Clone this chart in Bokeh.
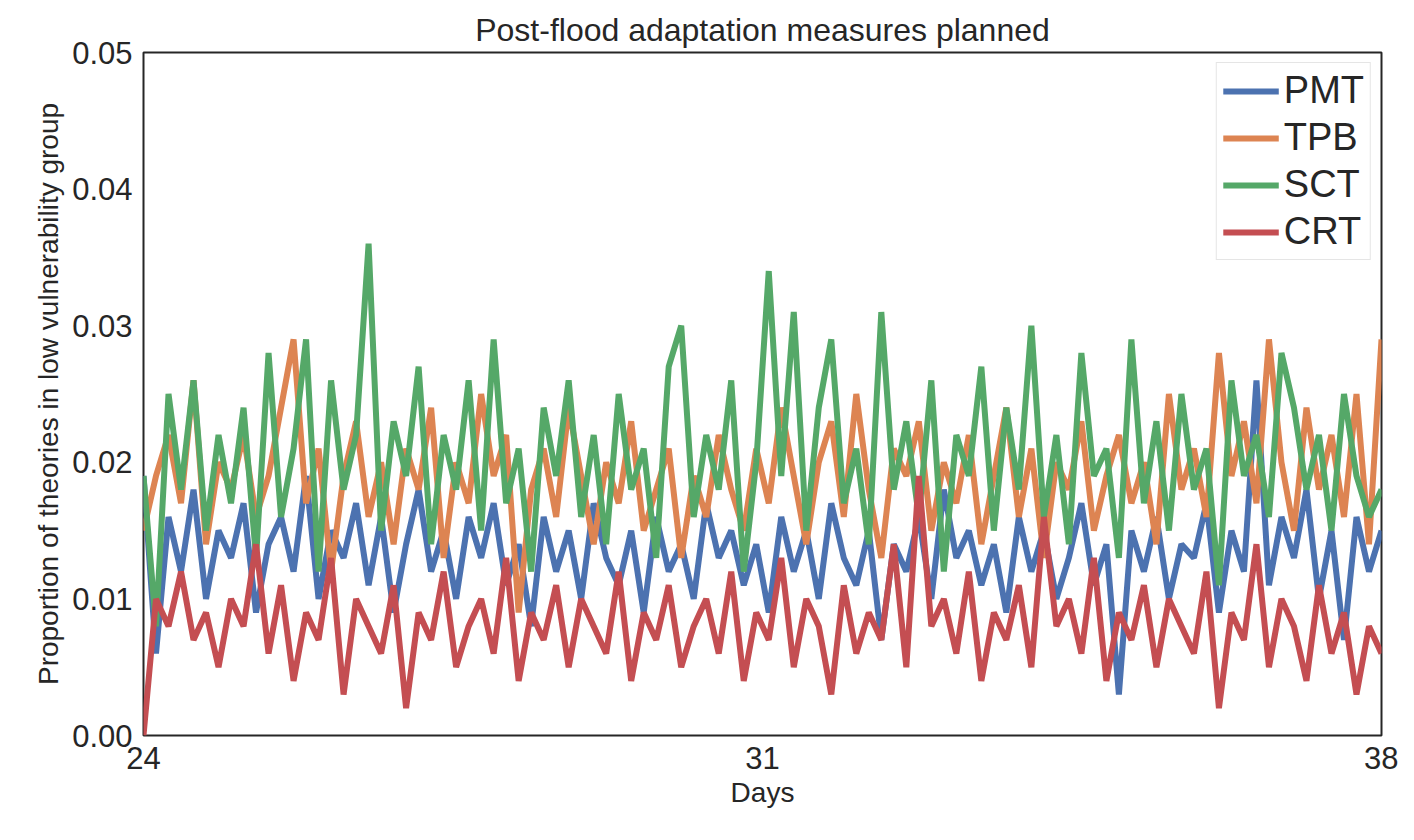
import numpy as np
from bokeh.plotting import figure
from bokeh.models import FixedTicker, Legend, LegendItem, CustomJSTickFormatter
from bokeh.embed import file_html
from bokeh.resources import INLINE

pmt = [0.019,0.006,0.016,0.012,0.018,0.010,0.015,0.013,0.017,0.009,0.014,0.016,0.012,0.019,0.010,0.015,0.013,0.017,0.011,0.016,
       0.009,0.014,0.018,0.012,0.015,0.010,0.016,0.013,0.017,0.011,0.014,0.008,0.016,0.012,0.015,0.010,0.017,0.013,0.011,0.015,
       0.009,0.016,0.012,0.014,0.010,0.017,0.013,0.015,0.011,0.014,0.009,0.016,0.012,0.015,0.010,0.017,0.013,0.011,0.015,0.007,
       0.014,0.012,0.016,0.010,0.018,0.013,0.015,0.011,0.014,0.009,0.016,0.012,0.015,0.010,0.013,0.017,0.011,0.014,0.003,0.015,
       0.012,0.016,0.010,0.014,0.013,0.017,0.009,0.015,0.012,0.026,0.011,0.016,0.013,0.018,0.010,0.015,0.007,0.016,0.012,0.015]
tpb = [0.015,0.019,0.022,0.017,0.026,0.014,0.020,0.018,0.022,0.016,0.019,0.024,0.029,0.017,0.021,0.012,0.019,0.023,0.016,0.020,
       0.014,0.021,0.018,0.024,0.013,0.020,0.017,0.025,0.019,0.022,0.009,0.018,0.021,0.016,0.024,0.019,0.014,0.020,0.017,0.023,
       0.015,0.018,0.021,0.013,0.019,0.016,0.022,0.018,0.015,0.021,0.017,0.024,0.019,0.014,0.020,0.023,0.016,0.025,0.018,0.013,
       0.021,0.019,0.023,0.015,0.020,0.017,0.022,0.014,0.019,0.024,0.016,0.021,0.013,0.020,0.018,0.023,0.015,0.019,0.022,0.017,
       0.020,0.014,0.025,0.018,0.021,0.016,0.028,0.019,0.023,0.017,0.029,0.020,0.015,0.024,0.018,0.022,0.016,0.025,0.014,0.029]
sct = [0.019,0.008,0.025,0.018,0.026,0.015,0.022,0.017,0.024,0.013,0.028,0.016,0.021,0.029,0.012,0.026,0.018,0.022,0.036,0.015,
       0.023,0.019,0.027,0.014,0.022,0.018,0.026,0.015,0.029,0.017,0.021,0.012,0.024,0.019,0.026,0.016,0.022,0.014,0.025,0.018,
       0.021,0.013,0.027,0.030,0.016,0.022,0.018,0.026,0.012,0.020,0.034,0.019,0.031,0.015,0.024,0.029,0.017,0.021,0.014,0.031,
       0.018,0.023,0.016,0.026,0.012,0.022,0.019,0.027,0.015,0.024,0.018,0.030,0.016,0.022,0.014,0.028,0.019,0.021,0.013,0.029,
       0.017,0.023,0.015,0.025,0.018,0.021,0.011,0.026,0.019,0.022,0.016,0.028,0.024,0.018,0.022,0.015,0.025,0.019,0.016,0.018]
crt = [0.000,0.010,0.008,0.012,0.007,0.009,0.005,0.010,0.008,0.014,0.006,0.011,0.004,0.009,0.007,0.013,0.003,0.010,0.008,0.006,
       0.011,0.002,0.009,0.007,0.012,0.005,0.008,0.010,0.006,0.013,0.004,0.009,0.007,0.011,0.005,0.010,0.008,0.006,0.012,0.004,
       0.009,0.007,0.011,0.005,0.008,0.010,0.006,0.012,0.004,0.009,0.007,0.013,0.005,0.010,0.008,0.003,0.011,0.006,0.009,0.007,
       0.014,0.005,0.019,0.008,0.010,0.006,0.012,0.004,0.009,0.007,0.011,0.005,0.016,0.008,0.010,0.006,0.013,0.004,0.009,0.007,
       0.011,0.005,0.010,0.008,0.006,0.012,0.002,0.009,0.007,0.014,0.005,0.010,0.008,0.004,0.011,0.006,0.009,0.003,0.008,0.006]

names = ["PMT", "TPB", "SCT", "CRT"]
colors = ["#4c72b0", "#dd8452", "#55a868", "#c44e52"]
x_ticks = [24, 31, 38]
y_ticks = [0.0, 0.01, 0.02, 0.03, 0.04, 0.05]

FONT = "Liberation Sans"

p = figure(width=1398, height=824, x_range=(24, 38), y_range=(0, 0.05),
           output_backend="svg", toolbar_location=None,
           min_border_left=143, min_border_right=17, min_border_top=52, min_border_bottom=89,
           title="Post-flood adaptation measures planned")
p.title.text_font = FONT
p.title.text_font_size = "32px"
p.title.text_font_style = "normal"
p.title.align = "center"
p.title.text_color = "#262626"

items = []
for name, col, ys in zip(names, colors, [pmt, tpb, sct, crt]):
    xs = np.linspace(24, 38, len(ys))
    r = p.line(xs, ys, line_color=col, line_width=6)
    items.append(LegendItem(label=name, renderers=[r]))

legend = Legend(items=items, location="top_right", label_text_font=FONT,
                label_text_font_size="38px", label_text_color="#262626",
                glyph_width=56, label_height=42, glyph_height=42,
                spacing=4, padding=6, border_line_color="#cccccc",
                border_line_width=1, background_fill_alpha=0.8)
p.add_layout(legend)

p.xgrid.visible = False
p.ygrid.visible = False
p.outline_line_color = "#262626"
p.outline_line_width = 2

p.xaxis.ticker = FixedTicker(ticks=x_ticks)
p.yaxis.ticker = FixedTicker(ticks=y_ticks)
p.yaxis.formatter = CustomJSTickFormatter(code="return tick.toFixed(2);")
p.xaxis.axis_label = "Days"
p.yaxis.axis_label = "Proportion of theories in low vulnerability group"
for ax in (p.xaxis, p.yaxis):
    ax.major_label_text_font = FONT
    ax.major_label_text_font_size = "31px"
    ax.major_label_text_color = "#262626"
    ax.axis_label_text_font = FONT
    ax.axis_label_text_font_size = "28px"
    ax.axis_label_text_font_style = "normal"
    ax.axis_label_text_color = "#262626"
    ax.axis_line_color = None
    ax.major_tick_line_color = None
    ax.minor_tick_line_color = None

open("out.html", "w").write(file_html(p, INLINE))
